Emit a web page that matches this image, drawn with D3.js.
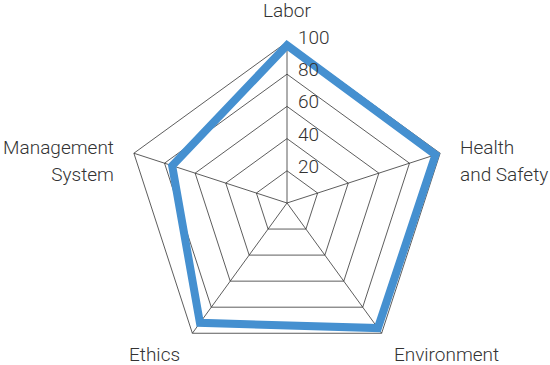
<!DOCTYPE html>
<html>
<head>
<meta charset="utf-8">
<script src="https://cdn.jsdelivr.net/npm/d3@7"></script>
<style>
html,body{margin:0;padding:0;background:#fff;}
text{font-family:Roboto,"Open Sans",sans-serif;font-weight:300;fill:#333;}
</style>
</head>
<body>
<svg id="chart" width="550" height="365"></svg>
<script>
const categories = ["Labor", "Health and Safety", "Environment", "Ethics", "Management System"];
const labelLines = [["Labor"], ["Health", "and Safety"], ["Environment"], ["Ethics"], ["Management", "System"]];
const values = [98, 97, 96, 92, 75];
const tickValues = [20, 40, 60, 80, 100];
const tickLabels = ["20", "40", "60", "80", "100"];

const svg = d3.select("#chart");
const cx = 287, cy = 203, R = 161;
const r = d3.scaleLinear().domain([0, 100]).range([0, R]);
const angle = d3.scaleLinear().domain([0, categories.length]).range([0, 2 * Math.PI]);
const pt = (i, v) => {
  const a = angle(i);
  return [cx + r(v) * Math.sin(a), cy - r(v) * Math.cos(a)];
};

const g = svg.append("g");
// grid rings
tickValues.forEach(t => {
  const pts = categories.map((c, i) => pt(i, t));
  g.append("polygon")
    .attr("points", pts.map(p => p.join(",")).join(" "))
    .attr("fill", "none").attr("stroke", "#333").attr("stroke-width", 0.8);
});
// spokes
categories.forEach((c, i) => {
  const p = pt(i, 100);
  g.append("line").attr("x1", cx).attr("y1", cy).attr("x2", p[0]).attr("y2", p[1])
    .attr("stroke", "#333").attr("stroke-width", 0.8);
});

// data
const line = d3.line().curve(d3.curveLinearClosed);
g.append("path")
  .attr("d", line(values.map((v, i) => pt(i, v))))
  .attr("fill", "none").attr("stroke", "#4590d0").attr("stroke-width", 8)
  .attr("stroke-linejoin", "miter");

// tick labels
tickValues.forEach((t, k) => {
  g.append("text").attr("x", cx + 11).attr("y", cy - r(t) + 2)
    .attr("font-size", 19).text(tickLabels[k]);
});

// axis labels
const LR = 113;
categories.forEach((c, i) => {
  const [x, y] = pt(i, LR);
  const dx = x - cx, up = Math.cos(angle(i));
  const anchor = Math.abs(dx) < 1 ? "middle" : (dx > 0 ? "start" : "end");
  let base;
  if (up > 0.9) base = y - 4; else if (up > 0) base = y + 7; else base = y + 11;
  const tx = g.append("text").attr("text-anchor", anchor).attr("font-size", 19);
  labelLines[i].forEach((s, j) => {
    tx.append("tspan").attr("x", x).attr("y", base + j * 27).text(s);
  });
});
</script>
</body>
</html>
